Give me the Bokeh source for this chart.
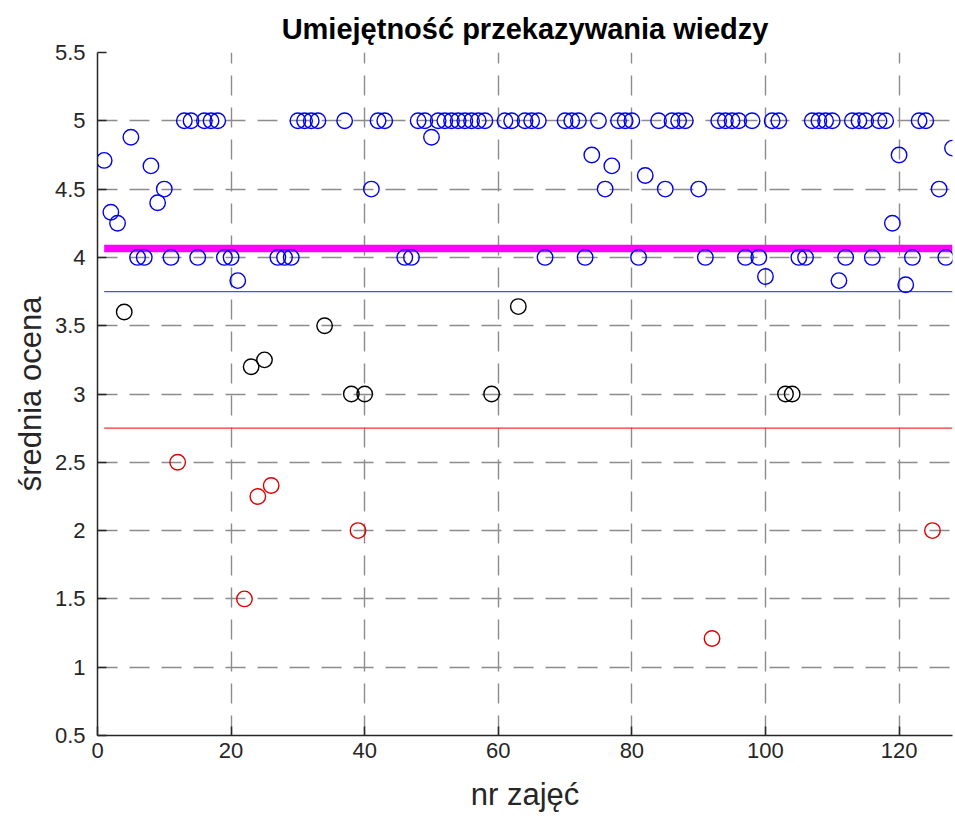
from bokeh.plotting import figure
from bokeh.models import Range1d, FixedTicker, NumeralTickFormatter
from bokeh.embed import file_html
from bokeh.resources import INLINE

# ---- data (class number -> mean rating) ----
blue_x = [1, 2, 3, 5, 6, 7, 8, 9, 10, 11, 13, 14, 15, 16, 17, 18, 19, 20, 21,
          27, 28, 29, 30, 31, 32, 33, 37, 41, 42, 43, 46, 47, 48, 49, 50,
          51, 52, 53, 54, 55, 56, 57, 58, 61, 62, 64, 65, 66, 67, 70, 71, 72,
          73, 74, 75, 76, 77, 78, 79, 80, 81, 82, 84, 85, 86, 87, 88, 90, 91,
          93, 94, 95, 96, 97, 98, 99, 100, 101, 102, 105, 106, 107, 108, 109,
          110, 111, 112, 113, 114, 115, 116, 117, 118, 119, 120, 121, 122,
          123, 124, 126, 127, 128]
blue_y = [4.71, 4.33, 4.25, 4.88, 4.0, 4.0, 4.67, 4.40, 4.5, 4.0, 5, 5, 4, 5, 5, 5, 4, 4, 3.83,
          4, 4, 4, 5, 5, 5, 5, 5, 4.5, 5, 5, 4, 4, 5, 5, 4.88,
          5, 5, 5, 5, 5, 5, 5, 5, 5, 5, 5, 5, 5, 4, 5, 5, 5,
          4, 4.75, 5, 4.5, 4.67, 5, 5, 5, 4, 4.6, 5, 4.5, 5, 5, 5, 4.5, 4,
          5, 5, 5, 5, 4, 5, 4, 3.86, 5, 5, 4, 4, 5, 5, 5,
          5, 3.83, 4, 5, 5, 5, 4, 5, 5, 4.25, 4.75, 3.8, 4,
          5, 5, 4.5, 4, 4.8]

black_x = [4, 23, 25, 34, 38, 40, 59, 63, 103, 104]
black_y = [3.6, 3.2, 3.25, 3.5, 3.0, 3.0, 3.0, 3.64, 3.0, 3.0]

red_x = [12, 22, 24, 26, 39, 92, 125]
red_y = [2.5, 1.5, 2.25, 2.33, 2.0, 1.21, 2.0]

line_x = [1, 128]
mean_all = 4.065
upper_thr = 3.75
lower_thr = 2.75

x_ticks = [0, 20, 40, 60, 80, 100, 120]
y_ticks = [0.5, 1, 1.5, 2, 2.5, 3, 3.5, 4, 4.5, 5, 5.5]

FONT = "Liberation Sans"
AX = "#262626"

p = figure(width=955, height=816, output_backend="svg", toolbar_location=None,
           x_range=Range1d(0, 128), y_range=Range1d(0.5, 5.5),
           title="Umiejętność przekazywania wiedzy",
           x_axis_label="nr zajęć", y_axis_label="średnia ocena",
           min_border_left=97, min_border_right=3, min_border_top=52, min_border_bottom=81)

p.outline_line_color = None
p.background_fill_color = "white"
p.border_fill_color = "white"

p.title.align = "center"
p.title.text_font = FONT
p.title.text_font_size = "29px"
p.title.text_font_style = "bold"
p.title.text_color = "black"
p.title.standoff = 15

for ax in (p.xaxis[0], p.yaxis[0]):
    ax.axis_line_color = AX
    ax.axis_line_width = 1.5
    ax.major_tick_line_color = AX
    ax.major_tick_line_width = 1.5
    ax.major_tick_in = 9
    ax.major_tick_out = 0
    ax.minor_tick_line_color = None
    ax.major_label_text_font = FONT
    ax.major_label_text_font_size = "22px"
    ax.major_label_text_color = AX
    ax.axis_label_text_font = FONT
    ax.axis_label_text_font_size = "31px"
    ax.axis_label_text_font_style = "normal"
    ax.axis_label_text_color = AX

p.xaxis[0].ticker = FixedTicker(ticks=x_ticks)
p.yaxis[0].ticker = FixedTicker(ticks=y_ticks)
p.yaxis[0].formatter = NumeralTickFormatter(format="0.[0]")
p.xaxis[0].major_label_standoff = 7
p.yaxis[0].major_label_standoff = 12
p.xaxis[0].axis_label_standoff = 16
p.yaxis[0].axis_label_standoff = 4

for g in (p.xgrid[0], p.ygrid[0]):
    g.grid_line_color = "#8c8c8c"
    g.grid_line_width = 1.4
    g.grid_line_dash = "20 12"
p.xgrid[0].ticker = FixedTicker(ticks=x_ticks)
p.ygrid[0].ticker = FixedTicker(ticks=y_ticks)

# horizontal reference lines
p.line(line_x, [mean_all, mean_all], line_color="#ff00ff", line_width=7.5)
p.line(line_x, [upper_thr, upper_thr], line_color="#4d4dff", line_width=1.2)
p.line(line_x, [lower_thr, lower_thr], line_color="#ff3030", line_width=1.2)

# points
p.scatter(blue_x, blue_y, marker="circle", size=15.5, fill_color=None,
          line_color="#0000ee", line_width=1.4)
p.scatter(black_x, black_y, marker="circle", size=15.5, fill_color=None,
          line_color="black", line_width=1.4)
p.scatter(red_x, red_y, marker="circle", size=15.5, fill_color=None,
          line_color="#e00000", line_width=1.4)

open("out.html", "w").write(file_html(p, INLINE))
